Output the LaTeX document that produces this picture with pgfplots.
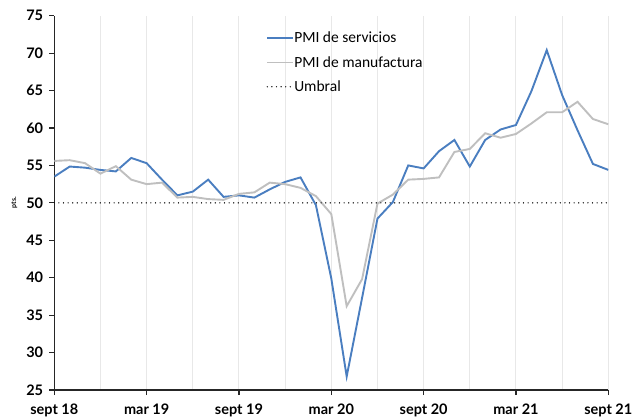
\documentclass[border=0pt]{standalone}
\usepackage{fontspec}
\setmainfont{Carlito}
\newfontfamily\tickfont{Lato}
\usepackage{pgfplots}
\pgfplotsset{compat=1.18}
\definecolor{serv}{HTML}{4A7EC0}
\definecolor{manu}{HTML}{BFBFBF}
\definecolor{gridc}{HTML}{E8E8E8}
\begin{document}
\begin{tikzpicture}
\useasboundingbox (0,0) rectangle (633pt,416pt);
\begin{axis}[
  at={(54.3pt,26pt)}, anchor=south west,
  scale only axis, width=554pt, height=374.3pt,
  xmin=0, xmax=36, ymin=25, ymax=75,
  axis x line=bottom, axis y line=left,
  axis line style={-, black!85, line width=1.3pt},
  xtick={0,6,...,36},
  xticklabels={sept 18, mar 19, sept 19, mar 20, sept 20, mar 21, sept 21},
  minor xtick={3,9,...,33},
  ytick={25,30,...,75},
  xmajorgrids, xminorgrids,
  major grid style={gridc, line width=1pt},
  minor grid style={gridc, line width=1pt},
  tick align=outside,
  major tick length=5pt, minor tick length=0pt,
  tick style={black!85, line width=1.2pt},
  /pgf/number format/assume math mode=true,
  tick label style={font=\tickfont\bfseries\fontsize{14.5}{17}\selectfont, inner sep=0pt},
  yticklabel style={xshift=-6pt},
  xticklabel style={yshift=-9pt},
  ylabel={pts.},
  ylabel style={font=\tickfont\bfseries\fontsize{7}{8}\selectfont, at={(axis description cs:-0.072,0.5)}, anchor=center},
  legend style={draw=none, fill=none, at={(axis description cs:0.377,0.962)}, anchor=north west,
    font=\fontsize{15.5}{18}\selectfont, row sep=12pt,
    nodes={inner sep=0pt}},
  legend cell align=left,
  legend image code/.code={\draw[#1] (0pt,0pt) -- (26pt,0pt);},
  /tikz/every even column/.append style={column sep=2pt},
]
\addplot[serv, line width=1.9pt] coordinates {
(0,53.5)(1,54.85)(2,54.7)(3,54.4)(4,54.2)(5,56.0)(6,55.3)(7,53.1)(8,51.0)(9,51.5)
(10,53.1)(11,50.8)(12,51.0)(13,50.7)(14,51.8)(15,52.8)(16,53.4)(17,49.7)(18,39.9)(19,26.8)
(20,37.3)(21,47.9)(22,50.1)(23,55.0)(24,54.6)(25,56.9)(26,58.4)(27,54.85)(28,58.4)(29,59.8)
(30,60.4)(31,64.9)(32,70.4)(33,64.4)(34,59.7)(35,55.2)(36,54.4)};
\addlegendentry{PMI de servicios}
\addplot[manu, line width=1.9pt] coordinates {
(0,55.6)(1,55.7)(2,55.3)(3,53.9)(4,54.9)(5,53.1)(6,52.5)(7,52.7)(8,50.7)(9,50.8)
(10,50.5)(11,50.4)(12,51.2)(13,51.4)(14,52.7)(15,52.5)(16,52.0)(17,50.9)(18,48.5)(19,36.2)
(20,39.8)(21,49.9)(22,51.1)(23,53.1)(24,53.2)(25,53.4)(26,56.8)(27,57.2)(28,59.3)(29,58.7)
(30,59.2)(31,60.6)(32,62.1)(33,62.1)(34,63.5)(35,61.2)(36,60.5)};
\addlegendentry{PMI de manufactura}
\addplot[black, line width=1.4pt, line cap=round, dash pattern=on 0pt off 4.6pt] coordinates {(0,50)(36,50)};
\addlegendentry{Umbral}
\end{axis}
\end{tikzpicture}
\end{document}
